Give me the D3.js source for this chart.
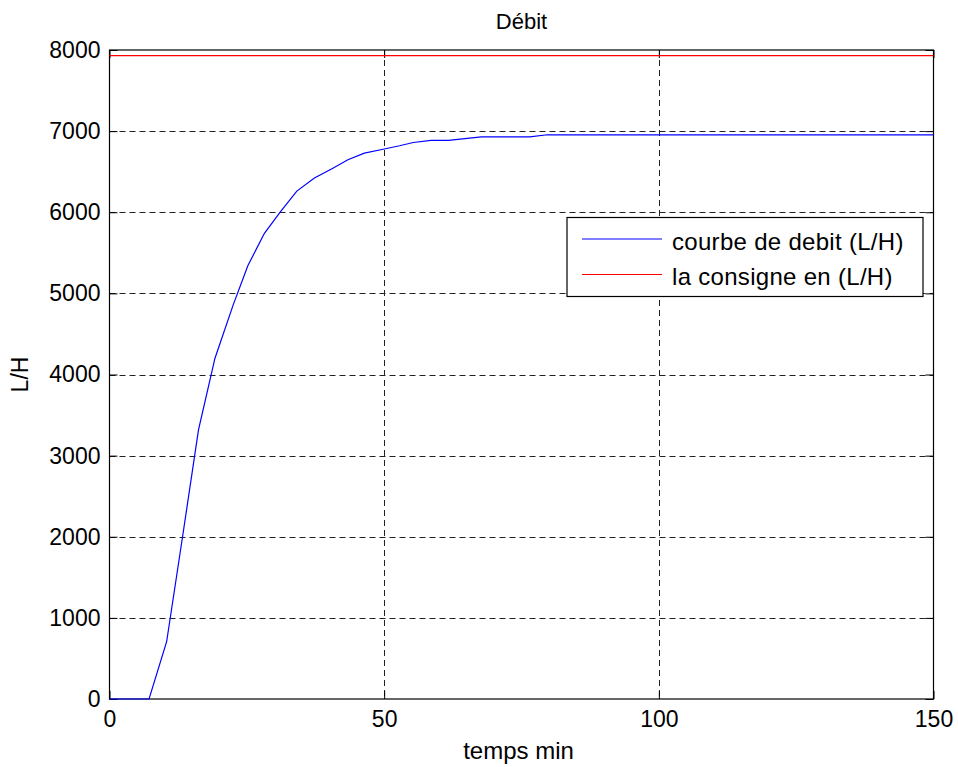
<!DOCTYPE html>
<html>
<head>
<meta charset="utf-8">
<script src="https://cdn.jsdelivr.net/npm/d3@7"></script>
<style>
  html, body { margin: 0; padding: 0; background: #fff; }
  svg { display: block; font-family: "Liberation Sans", Arial, Helvetica, sans-serif; }
</style>
</head>
<body>
<svg id="chart" width="958" height="767"></svg>
<script>
// ---- data ----
const timeMin = [0, 7.2, 10.4, 13.3, 16.2, 19.2, 22.5, 25.2, 28.2, 31.1, 34.1, 37.3, 40.5, 43.4, 46.4, 49.8, 52.8, 55.3, 58.5, 61.7, 67.7, 76.5, 79.7, 150];
const debit   = [0, 0, 706, 2000, 3317, 4201, 4855, 5344, 5740, 6004, 6261, 6421, 6537, 6647, 6728, 6777, 6820, 6860, 6885, 6885, 6930, 6930, 6955, 6955];
const consigneTime = [0, 150];
const consigne = [7930, 7930];
const xTicks = [0, 50, 100, 150];
const yTicks = [0, 1000, 2000, 3000, 4000, 5000, 6000, 7000, 8000];
const legendLabels = ["courbe de debit (L/H)", "la consigne en (L/H)"];
const seriesColors = ["#0000ff", "#ff0000"];
const titleText = "Débit";
const xLabelText = "temps min";
const yLabelText = "L/H";

// ---- layout ----
const svg = d3.select("#chart");
const L = 109.5, R = 933.5, T = 50, B = 699;
const x = d3.scaleLinear().domain([0, 150]).range([L, R]);
const y = d3.scaleLinear().domain([0, 8000]).range([B, T]);

// grid
const grid = svg.append("g").attr("stroke", "#222").attr("stroke-width", 1).attr("stroke-dasharray", "6,4");
grid.selectAll("line.gx").data(xTicks.filter(d => d > 0 && d < 150)).enter().append("line")
  .attr("x1", d => Math.round(x(d)) + 0.5).attr("x2", d => Math.round(x(d)) + 0.5)
  .attr("y1", T).attr("y2", B);
grid.selectAll("line.gy").data(yTicks.filter(d => d > 0 && d < 8000)).enter().append("line")
  .attr("y1", d => Math.round(y(d)) + 0.5).attr("y2", d => Math.round(y(d)) + 0.5)
  .attr("x1", L).attr("x2", R);

// axes (inward ticks, mirrored)
function styleAxis(g) {
  g.select(".domain").remove();
  g.selectAll("line").attr("stroke", "#000");
  g.selectAll("text").attr("fill", "#000").attr("font-size", "23px");
}
svg.append("g").attr("transform", `translate(0,${B})`)
  .call(d3.axisBottom(x).tickValues(xTicks).tickFormat(d3.format("d")).tickSizeInner(-8).tickPadding(12))
  .call(styleAxis).attr("font-family", null);
svg.append("g").attr("transform", `translate(${L},0)`)
  .call(d3.axisLeft(y).tickValues(yTicks).tickFormat(d3.format("d")).tickSizeInner(-8).tickPadding(9))
  .call(styleAxis).attr("font-family", null);
svg.append("g").attr("transform", `translate(0,${T})`)
  .call(d3.axisTop(x).tickValues(xTicks).tickFormat("").tickSizeInner(-8))
  .call(styleAxis);
svg.append("g").attr("transform", `translate(${R},0)`)
  .call(d3.axisRight(y).tickValues(yTicks).tickFormat("").tickSizeInner(-8))
  .call(styleAxis);

// frame
svg.append("rect").attr("x", L).attr("y", T).attr("width", R - L).attr("height", B - T)
  .attr("fill", "none").attr("stroke", "#000").attr("stroke-width", 1.2);

// series
const line = d3.line().x(d => x(d[0])).y(d => y(d[1]));
svg.append("path").datum(consigneTime.map((t, i) => [t, consigne[i]]))
  .attr("d", line).attr("fill", "none").attr("stroke", seriesColors[1]).attr("stroke-width", 1.2);
svg.append("path").datum(timeMin.map((t, i) => [t, debit[i]]))
  .attr("d", line).attr("fill", "none").attr("stroke", seriesColors[0]).attr("stroke-width", 1.2);

// labels
svg.append("text").attr("x", (L + R) / 2).attr("y", 29).attr("text-anchor", "middle")
  .attr("font-size", "22px").text(titleText);
svg.append("text").attr("x", (L + R) / 2 - 3).attr("y", 759).attr("text-anchor", "middle")
  .attr("font-size", "24px").text(xLabelText);
svg.append("text").attr("transform", `translate(28,${(T + B) / 2}) rotate(-90)`).attr("text-anchor", "middle")
  .attr("font-size", "23px").text(yLabelText);

// legend
const lg = svg.append("g");
lg.append("rect").attr("x", 567).attr("y", 217.5).attr("width", 356).attr("height", 79)
  .attr("fill", "#fff").attr("stroke", "#000").attr("stroke-width", 1.2);
legendLabels.forEach((lab, i) => {
  const yy = 239 + i * 35.5;
  lg.append("line").attr("x1", 582).attr("x2", 662).attr("y1", yy).attr("y2", yy)
    .attr("stroke", seriesColors[i]).attr("stroke-width", 1.2);
  lg.append("text").attr("x", 672).attr("y", yy + 10.5).attr("font-size", "24px")
    .attr("letter-spacing", "0.3px").text(lab);
});
</script>
</body>
</html>
